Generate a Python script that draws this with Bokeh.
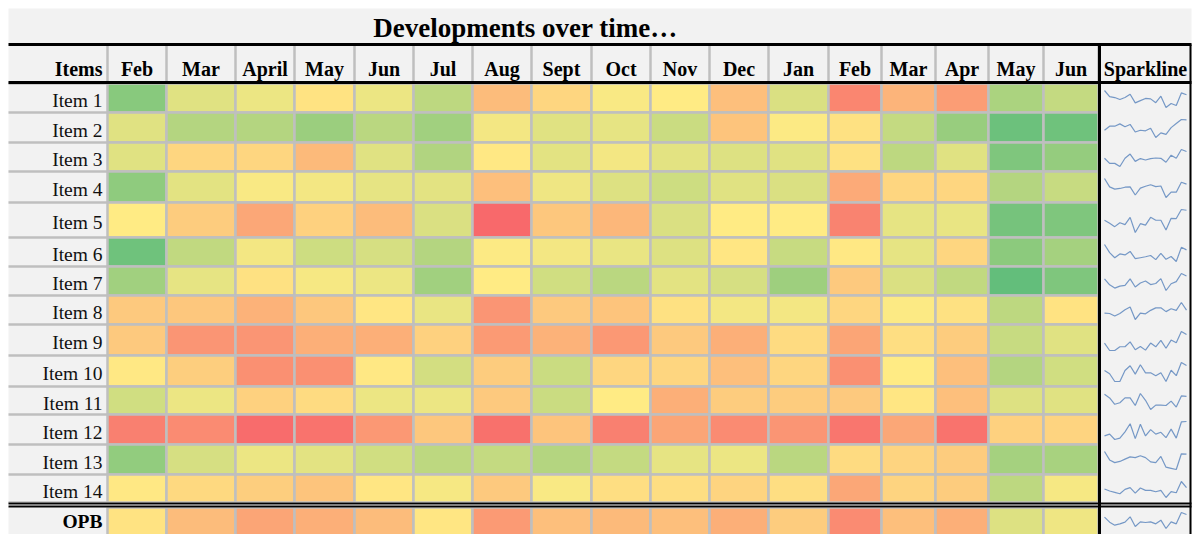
from bokeh.plotting import figure
from bokeh.models import Range1d, ColumnDataSource, LinearColorMapper
from bokeh.transform import transform
from bokeh.embed import file_html
from bokeh.resources import INLINE
from bokeh.core.properties import value

# ---------------- data ----------------
title = "Developments over time…"
corner_label = "Items"
spark_label = "Sparkline"
months = ["Feb", "Mar", "April", "May", "Jun", "Jul", "Aug", "Sept", "Oct",
          "Nov", "Dec", "Jan", "Feb", "Mar", "Apr", "May", "Jun"]
row_labels = ["Item 1", "Item 2", "Item 3", "Item 4", "Item 5", "Item 6", "Item 7",
              "Item 8", "Item 9", "Item 10", "Item 11", "Item 12", "Item 13", "Item 14",
              "OPB"]

# scores (0 = worst / red, 50 = neutral / yellow, 100 = best / green)
item_01 = [88, 60, 56, 47, 56, 71, 32, 42, 52, 50, 33, 62, 11, 29, 20, 77, 69]
item_02 = [60, 74, 74, 82, 72, 80, 54, 60, 58, 67, 35, 51, 46, 69, 83, 97, 96]
item_03 = [60, 42, 42, 31, 60, 75, 49, 59, 54, 59, 61, 60, 46, 71, 60, 91, 84]
item_04 = [86, 59, 52, 54, 58, 59, 33, 55, 61, 66, 60, 62, 25, 42, 42, 74, 68]
item_05 = [50, 38, 24, 40, 32, 62, 0, 36, 30, 62, 50, 50, 10, 58, 57, 94, 91]
item_06 = [96, 70, 54, 66, 63, 74, 51, 54, 57, 61, 48, 68, 49, 58, 42, 87, 79]
item_07 = [80, 58, 46, 53, 56, 80, 50, 65, 72, 59, 63, 81, 37, 62, 70, 100, 91]
item_08 = [37, 36, 28, 36, 48, 57, 17, 37, 35, 46, 54, 54, 42, 51, 46, 71, 47]
item_09 = [37, 17, 17, 27, 27, 40, 19, 28, 18, 37, 27, 44, 23, 45, 38, 68, 60]
item_10 = [49, 39, 15, 15, 49, 64, 38, 67, 42, 42, 33, 42, 15, 50, 33, 74, 65]
item_11 = [65, 56, 40, 44, 56, 56, 37, 67, 50, 27, 38, 38, 37, 48, 33, 61, 60]
item_12 = [9, 13, 1, 4, 18, 36, 3, 35, 9, 23, 13, 17, 5, 24, 4, 40, 41]
item_13 = [85, 63, 56, 59, 65, 71, 69, 74, 69, 58, 56, 72, 44, 41, 38, 79, 78]
item_14 = [49, 43, 39, 35, 48, 53, 37, 52, 45, 45, 41, 45, 24, 41, 38, 71, 53]
opb = [47, 32, 23, 27, 32, 48, 19, 33, 31, 33, 27, 38, 13, 33, 27, 61, 55]

rows = [item_01, item_02, item_03, item_04, item_05, item_06, item_07, item_08,
        item_09, item_10, item_11, item_12, item_13, item_14, opb]

# ---------------- layout (page pixels of the table) ----------------
W, H = 1192, 534
LEFT, RIGHT = 8, 1191
TOP, BOTTOM = 8, 534
col_edges = [107, 166, 235, 294, 354, 413, 472, 531, 591, 650, 709, 768, 828,
             881, 935, 988, 1043, 1098]
spark_right = 1190
row_edges = [83, 112, 142, 171, 202, 237, 266, 295, 324, 355, 386, 414, 444, 474, 502]
opb_top, opb_bottom = 507, 540
head_top, head_bottom = 44, 82

row_tops = row_edges[:-1] + [opb_top]
row_bots = row_edges[1:] + [opb_bottom]

# colour scale (Excel-like red - yellow - green)
red, yellow, green = (248, 105, 107), (255, 235, 132), (99, 190, 123)
palette = []
for i in range(201):
    s = i / 200
    if s <= 0.5:
        a, b, t = red, yellow, s / 0.5
    else:
        a, b, t = yellow, green, (s - 0.5) / 0.5
    c = [round(a[k] + (b[k] - a[k]) * t) for k in range(3)]
    palette.append("#%02x%02x%02x" % tuple(c))
mapper = LinearColorMapper(palette=palette, low=0, high=100)

p = figure(width=W, height=H, x_range=Range1d(0, W), y_range=Range1d(H, 0),
           output_backend="svg", toolbar_location=None, min_border=0)
p.axis.visible = False
p.grid.visible = False
p.outline_line_color = None
p.background_fill_color = "white"
p.border_fill_color = "white"

FONT = value("Liberation Serif")
GRID = "#BFBFBF"


def base(y, size):
    # place the alphabetic baseline of a text of the given px size at y
    return y - 0.3 * size


# table background
p.quad(left=[LEFT], right=[RIGHT], top=[TOP], bottom=[BOTTOM + 6],
       fill_color="#F2F2F2", line_color=None)

# heatmap cells
L, R, T, B, S = [], [], [], [], []
for r, vals in enumerate(rows):
    for c, v in enumerate(vals):
        L.append(col_edges[c]); R.append(col_edges[c + 1])
        T.append(row_tops[r]); B.append(row_bots[r]); S.append(v)
src = ColumnDataSource(dict(left=L, right=R, top=T, bottom=B, score=S))
p.quad(left="left", right="right", top="top", bottom="bottom", source=src,
       fill_color=transform("score", mapper), line_color=GRID, line_width=2.5)

# label column row separators
p.segment(x0=[LEFT] * len(row_edges), x1=[col_edges[0]] * len(row_edges),
          y0=row_edges, y1=row_edges, line_color=GRID, line_width=2.5)
# header column separators
p.segment(x0=col_edges, x1=col_edges, y0=[head_top] * len(col_edges),
          y1=[head_bottom] * len(col_edges), line_color=GRID, line_width=2.5)

# double line above OPB
p.quad(left=[LEFT], right=[RIGHT], top=[502], bottom=[507], fill_color="white",
       line_color=None)
p.segment(x0=[LEFT, LEFT], x1=[RIGHT, RIGHT], y0=[503, 506], y1=[503, 506],
          line_color="black", line_width=1.8)
# heavy header lines
p.segment(x0=[LEFT, LEFT], x1=[RIGHT, RIGHT],
          y0=[head_top, head_bottom], y1=[head_top, head_bottom],
          line_color="black", line_width=3)
# sparkline column borders
p.segment(x0=[col_edges[-1] + 1, spark_right], x1=[col_edges[-1] + 1, spark_right],
          y0=[head_top, head_top], y1=[BOTTOM + 6, BOTTOM + 6],
          line_color="black", line_width=[3, 2])

# sparklines
xs, ys = [], []
n = len(months)
sx0, sx1 = 1104, 1186
for r, vals in enumerate(rows):
    lo, hi = min(vals), max(vals)
    top, bot = row_tops[r] + 7, row_bots[r] - 5
    if r == len(rows) - 1:
        top, bot = 512, 528
    xs.append([sx0 + (sx1 - sx0) * i / (n - 1) for i in range(n)])
    ys.append([bot - (v - lo) / (hi - lo) * (bot - top) for v in vals])
p.multi_line(xs=xs, ys=ys, line_color="#5F88BE", line_width=1.2, line_alpha=0.85)

# title
TS, HS, RS = 27, 20, 19.5
p.text(x=[525], y=[base(36, TS)], text=[title], text_font=FONT, text_font_style="bold",
       text_font_size=f"{TS}px", text_align="center", text_baseline="alphabetic",
       text_color="black")

# header labels
hx = [(col_edges[i] + col_edges[i + 1]) / 2 for i in range(n)]
p.text(x=hx, y=[base(74, HS)] * n, text=months, text_font=FONT, text_font_style="bold",
       text_font_size=f"{HS}px", text_align="center", text_baseline="alphabetic",
       text_color="black")
p.text(x=[102], y=[base(74, HS)], text=[corner_label], text_font=FONT, text_font_style="bold",
       text_font_size=f"{HS}px", text_align="right", text_baseline="alphabetic",
       text_color="black")
p.text(x=[(col_edges[-1] + spark_right) / 2 + 1], y=[base(74, HS)], text=[spark_label],
       text_font=FONT, text_font_style="bold", text_font_size=f"{HS}px", text_align="center",
       text_baseline="alphabetic", text_color="black")

# row labels
ly = [base((row_tops[i] + row_bots[i]) / 2 + 8.5, RS) for i in range(len(rows) - 1)]
p.text(x=[102] * len(ly), y=ly, text=row_labels[:-1], text_font=FONT,
       text_font_size=f"{RS}px", text_align="right", text_baseline="alphabetic",
       text_color="#111111")
p.text(x=[102], y=[base(527, RS)], text=[row_labels[-1]], text_font=FONT,
       text_font_style="bold", text_font_size=f"{RS}px", text_align="right",
       text_baseline="alphabetic", text_color="black")

open("out.html", "w").write(file_html(p, INLINE))
